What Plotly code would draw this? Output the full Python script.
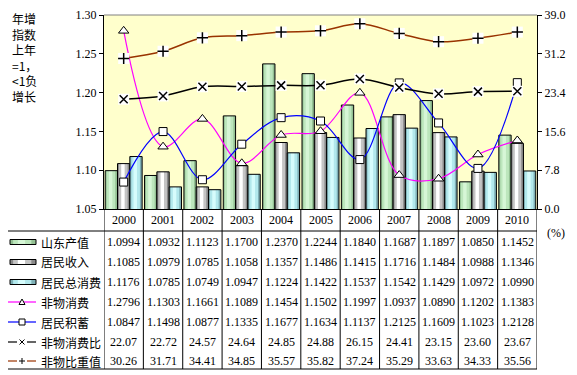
import plotly.graph_objects as go

years = ['2000', '2001', '2002', '2003', '2004', '2005', '2006', '2007', '2008', '2009', '2010']
shandong_output = [1.0994, 1.0932, 1.1123, 1.1700, 1.2370, 1.2244, 1.1840, 1.1687, 1.1897, 1.0850, 1.1452]
resident_income = [1.1085, 1.0979, 1.0785, 1.1058, 1.1357, 1.1486, 1.1415, 1.1716, 1.1484, 1.0988, 1.1346]
resident_consumption = [1.1176, 1.0785, 1.0749, 1.0947, 1.1224, 1.1422, 1.1537, 1.1542, 1.1429, 1.0972, 1.0990]
nonmaterial_consumption = [1.2796, 1.1303, 1.1661, 1.1089, 1.1454, 1.1502, 1.1997, 1.0937, 1.0890, 1.1202, 1.1383]
resident_savings = [1.0847, 1.1498, 1.0877, 1.1335, 1.1677, 1.1634, 1.1137, 1.2125, 1.1609, 1.1023, 1.2128]
nonmaterial_ratio = [22.07, 22.72, 24.57, 24.64, 24.85, 24.88, 26.15, 24.41, 23.15, 23.60, 23.67]
nonmaterial_share = [30.26, 31.71, 34.41, 34.85, 35.57, 35.82, 37.24, 35.29, 33.63, 34.33, 35.56]

series_names = ['山东产值', '居民收入', '居民总消费', '非物消费', '居民积蓄', '非物消费比', '非物比重值']
left_ticks = [1.05, 1.10, 1.15, 1.20, 1.25, 1.30]
right_ticks = [0.0, 7.8, 15.6, 23.4, 31.2, 39.0]
left_title_lines = ['年增', '指数', '上年', '=1，', '<1负', '增长']

# the page body has an 8px default margin; work in window pixels and shift
OFF = 8
W, H = 577 - OFF, 375 - OFF
L, R, T, B = 104, 537, 15, 209  # plot area in window pixels
SERIF = 'Liberation Serif, Times New Roman, serif'
CJK = 'Noto Sans CJK SC, sans-serif'


def PX(x):
    return (x - L) / (R - L)


def PY(y):
    return (B - y) / (B - T)


xs = list(range(len(years)))
fig = go.Figure()

# bars drawn as shaded stripes to mimic the gradient fill, then an outline on top
BW = 0.313
bar_offsets = [-0.47, -0.157, 0.156]
bar_shades = [
    ['#93C093', '#BCE6BC', '#D6F6D6'],
    ['#8A8A8A', '#C4C4C4', '#FFFFFF'],
    ['#7EB0B6', '#B2E8EC', '#D6FCFC'],
]
stripe_spans = [(0.0, 1.0), (0.12, 0.82), (0.3, 0.58)]
bar_series = [shandong_output, resident_income, resident_consumption]
for name, vals, off, shades in zip(series_names[:3], bar_series, bar_offsets, bar_shades):
    for (a, b), col in zip(stripe_spans, shades):
        fig.add_trace(go.Bar(x=xs, y=vals, offset=off + a * BW, width=(b - a) * BW,
                             marker=dict(color=col, line=dict(width=0)), showlegend=False, hoverinfo='skip'))
    fig.add_trace(go.Bar(x=xs, y=vals, name=name, offset=off, width=BW,
                         marker=dict(color='rgba(0,0,0,0)', line=dict(color='black', width=1)),
                         showlegend=False))

fig.add_trace(go.Scatter(x=xs, y=nonmaterial_consumption, mode='lines+markers', name=series_names[3],
                         line=dict(color='#FF00FF', width=1.2, shape='spline', smoothing=1.0),
                         marker=dict(symbol='triangle-up', size=9, color='white', line=dict(color='black', width=1)),
                         showlegend=False))
fig.add_trace(go.Scatter(x=xs, y=resident_savings, mode='lines+markers', name=series_names[4],
                         line=dict(color='#0000FF', width=1.2, shape='spline', smoothing=1.0),
                         marker=dict(symbol='square', size=8, color='white', line=dict(color='black', width=1)),
                         showlegend=False))

for vals, col, sym, nm in [(nonmaterial_ratio, 'black', 'x-thin', series_names[5]),
                           (nonmaterial_share, '#993300', 'cross-thin', series_names[6])]:
    fig.add_trace(go.Scatter(x=xs, y=vals, mode='lines', yaxis='y2', name=nm,
                             line=dict(color=col, width=1.5, shape='spline', smoothing=1.0), showlegend=False))
    fig.add_trace(go.Scatter(x=xs, y=vals, mode='markers', yaxis='y2', hoverinfo='skip',
                             marker=dict(symbol='square', size=11, color='white'), showlegend=False))
    fig.add_trace(go.Scatter(x=xs, y=vals, mode='markers', yaxis='y2', hoverinfo='skip',
                             marker=dict(symbol=sym, size=8, color='black', line=dict(color='black', width=1.5)),
                             showlegend=False))

fig.update_layout(
    width=W, height=H,
    margin=dict(l=L - OFF, r=W - (R - OFF), t=T - OFF, b=H - (B - OFF), pad=0, autoexpand=False),
    paper_bgcolor='white', plot_bgcolor='#FFFFCC',
    barmode='overlay',
    font=dict(family=SERIF, size=12, color='black'),
    xaxis=dict(range=[-0.5, len(years) - 0.5], showticklabels=False, showgrid=False, zeroline=False,
               showline=True, linecolor='black', linewidth=1, ticks='', automargin=False),
    yaxis=dict(range=[1.05, 1.30], tickvals=left_ticks, tickformat='.2f', showgrid=False, zeroline=False,
               showline=True, linecolor='black', linewidth=1, ticks='outside', ticklen=4, tickcolor='black',
               tickfont=dict(family=SERIF, size=12), automargin=False),
    yaxis2=dict(range=[0, 39], tickvals=right_ticks, tickformat='.1f', overlaying='y', side='right',
                showgrid=False, zeroline=False, showline=True, linecolor='black', linewidth=1,
                ticks='outside', ticklen=4, tickcolor='black', tickfont=dict(family=SERIF, size=12),
                automargin=False),
)

shapes = []
annos = []


def hline(x0, x1, y, color='black', w=1):
    shapes.append(dict(type='line', xref='paper', yref='paper', x0=PX(x0), x1=PX(x1), y0=PY(y), y1=PY(y),
                       line=dict(color=color, width=w)))


def vline(x, y0, y1, color='black', w=1):
    shapes.append(dict(type='line', xref='paper', yref='paper', x0=PX(x), x1=PX(x), y0=PY(y0), y1=PY(y1),
                       line=dict(color=color, width=w)))


hline(L, R, T, '#808080')
TAB_TOP, TAB_BOT, TAB_LEFT = 231, 369, 7
hline(TAB_LEFT, R, TAB_TOP)
hline(TAB_LEFT, R, TAB_BOT)
vline(TAB_LEFT, TAB_TOP, TAB_BOT)
for k in range(len(years) + 1):
    shapes.append(dict(type='line', xref='x', yref='paper', x0=k - 0.5, x1=k - 0.5, y0=PY(B), y1=PY(TAB_BOT),
                       line=dict(color='black', width=1)))

for i, yr in enumerate(years):
    annos.append(dict(x=i, y=PY(220), xref='x', yref='paper', text=yr, showarrow=False,
                      font=dict(family=SERIF, size=12), xanchor='center', yanchor='middle'))

row_y = [242, 262, 282, 302, 322, 342, 361]
table_rows = [shandong_output, resident_income, resident_consumption, nonmaterial_consumption,
              resident_savings, nonmaterial_ratio, nonmaterial_share]
fmts = ['{:.4f}'] * 5 + ['{:.2f}'] * 2
for ry, vals, fmt in zip(row_y, table_rows, fmts):
    for i, v in enumerate(vals):
        annos.append(dict(x=i, y=PY(ry), xref='x', yref='paper', text=fmt.format(v), showarrow=False,
                          font=dict(family=SERIF, size=12), xanchor='center', yanchor='middle'))

for ry, name in zip(row_y, series_names):
    annos.append(dict(x=PX(39), y=PY(ry), xref='paper', yref='paper', text=name, showarrow=False,
                      font=dict(family=CJK, size=12), xanchor='left', yanchor='middle'))

# bar legend keys with the same shading
for ry, shades in zip(row_y[:3], bar_shades):
    for (a, b), col in zip(stripe_spans, shades):
        shapes.append(dict(type='rect', xref='paper', yref='paper', x0=PX(10 + 26 * a), x1=PX(10 + 26 * b),
                           y0=PY(ry - 2.5), y1=PY(ry + 2.5), fillcolor=col, line=dict(width=0)))
    shapes.append(dict(type='rect', xref='paper', yref='paper', x0=PX(10), x1=PX(36), y0=PY(ry - 2.5),
                       y1=PY(ry + 2.5), line=dict(color='black', width=1)))

line_key_cols = ['#FF00FF', '#0000FF', 'black', '#993300']
for j, (ry, col) in enumerate(zip(row_y[3:], line_key_cols)):
    if j < 2:
        hline(7, 36, ry, col, 1.2)
    else:
        hline(7, 17, ry, col, 1.2)
        hline(27, 36, ry, col, 1.2)
    cx = 22
    if j == 0:
        shapes.append(dict(type='path', xref='paper', yref='paper',
                           path=f'M {PX(cx-3)},{PY(ry+2.5)} L {PX(cx+3)},{PY(ry+2.5)} L {PX(cx)},{PY(ry-3)} Z',
                           fillcolor='white', line=dict(color='black', width=1)))
    elif j == 1:
        shapes.append(dict(type='rect', xref='paper', yref='paper', x0=PX(cx - 3), x1=PX(cx + 3),
                           y0=PY(ry - 3), y1=PY(ry + 3), fillcolor='white', line=dict(color='black', width=1)))
    elif j == 2:
        shapes.append(dict(type='line', xref='paper', yref='paper', x0=PX(cx - 2.5), x1=PX(cx + 2.5),
                           y0=PY(ry - 2.5), y1=PY(ry + 2.5), line=dict(color='black', width=1)))
        shapes.append(dict(type='line', xref='paper', yref='paper', x0=PX(cx - 2.5), x1=PX(cx + 2.5),
                           y0=PY(ry + 2.5), y1=PY(ry - 2.5), line=dict(color='black', width=1)))
    else:
        hline(cx - 3, cx + 3, ry, 'black', 1)
        vline(cx, ry - 3, ry + 3, 'black', 1)

annos.append(dict(x=PX(10), y=PY(8), xref='paper', yref='paper', text='<br>'.join(left_title_lines),
                  showarrow=False, font=dict(family=CJK, size=12), xanchor='left', yanchor='top', align='left'))

annos.append(dict(x=PX(545), y=PY(233), xref='paper', yref='paper', text='(%)', showarrow=False,
                  font=dict(family=SERIF, size=12), xanchor='left', yanchor='middle'))

fig.update_layout(shapes=shapes, annotations=annos)
fig.write_html('out.html')
